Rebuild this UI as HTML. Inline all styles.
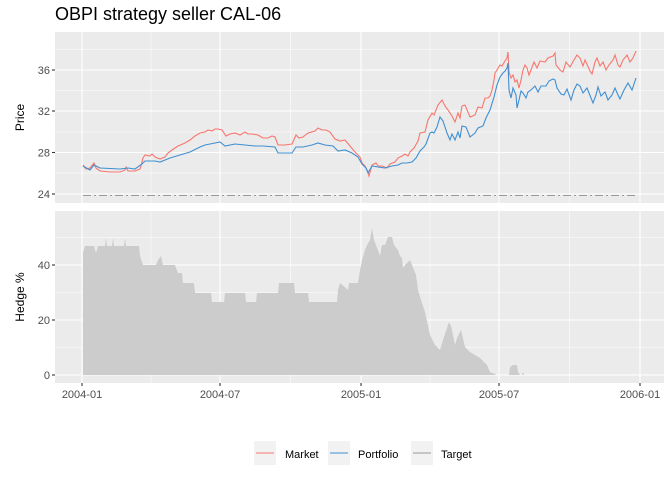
<!DOCTYPE html>
<html><head><meta charset="utf-8"><style>
html,body{margin:0;padding:0;background:#fff;}
svg{display:block;font-family:"Liberation Sans",sans-serif;}
</style></head><body>
<svg width="672" height="480" viewBox="0 0 672 480" xmlns="http://www.w3.org/2000/svg">
<rect width="672" height="480" fill="#fff"/>
<text x="55" y="20" font-size="18" fill="#000">OBPI strategy seller CAL-06</text>
<!-- top panel -->
<rect x="55" y="32" width="609" height="171" fill="#EBEBEB"/>
<g stroke="#fff" stroke-width="0.55">
<line x1="55" x2="664" y1="49.5" y2="49.5"/><line x1="55" x2="664" y1="90.5" y2="90.5"/><line x1="55" x2="664" y1="132" y2="132"/><line x1="55" x2="664" y1="173" y2="173"/>
<line y1="32" y2="203" x1="151" x2="151"/><line y1="32" y2="203" x1="290.5" x2="290.5"/><line y1="32" y2="203" x1="430" x2="430"/><line y1="32" y2="203" x1="569.5" x2="569.5"/>
</g>
<g stroke="#fff" stroke-width="1.1">
<line x1="55" x2="664" y1="70" y2="70"/><line x1="55" x2="664" y1="111" y2="111"/><line x1="55" x2="664" y1="152.5" y2="152.5"/><line x1="55" x2="664" y1="194" y2="194"/>
<line y1="32" y2="203" x1="82" x2="82"/><line y1="32" y2="203" x1="220" x2="220"/><line y1="32" y2="203" x1="361" x2="361"/><line y1="32" y2="203" x1="499" x2="499"/><line y1="32" y2="203" x1="640" x2="640"/>
</g>
<line x1="83" x2="637" y1="195.5" y2="195.5" stroke="#999" stroke-width="1.1" stroke-dasharray="8,3,2,3"/>
<polyline fill="none" stroke="#F8766D" stroke-width="1.1" points="83,165 86,169 90,168 94,163 96,168 100,171 110,172 120,172 125,170 126,167 128,171 135,171 140,169 141,166 143,158 145,155 150,156 152,154 155,157 160,159 165,157 168,153 172,150 178,146 185,143 190,140 195,136 200,133 205,132 208,130 212,131 215,129 218,129 222,130 226,136 230,134 235,133 240,135 245,132 248,134 252,134 258,135 263,138 268,138 272,136 275,137 278,145 285,145 292,144 296,135 299,138 303,137 308,133 315,131 318,128 322,130 326,130 330,132 335,139 340,141 345,140 350,146 355,152 360,157 362,163 365,166 368,172 369,176 372,165 376,163 378,166 382,166 387,168 390,164 395,162 398,158 402,156 405,154 408,156 410,152 414,148 418,141 420,133 425,132 428,120 432,113 434,115 438,105 442,100 445,106 448,110 452,116 455,122 458,113 460,118 462,106 465,105 470,117 475,115 478,107 482,108 485,98 488,98 490,96 492,90 494,80 495,73 497,70 500,65 502,66 505,61 507,58 508,52 509,72 511,78 513,75 515,82 517,80 519,88 521,80 523,70 525,65 527,68 529,75 531,70 534,62 537,68 540,61 545,62 548,58 553,56 555,53 556,65 560,70 563,72 566,62 570,67 574,60 577,55 580,58 583,66 585,60 590,71 592,74 595,62 597,58 600,66 603,62 606,70 609,65 613,60 615,55 618,65 620,67 623,60 627,55 630,62 633,58 636,51"/>
<polyline fill="none" stroke="#3F8FD2" stroke-width="1.1" points="83,166 90,170 94,165 100,168 120,169 128,168 135,169 142,164 145,161 155,161 160,162 170,158 180,155 190,152 200,147 205,145 210,144 215,143 220,142 225,146 235,144 245,145 255,146 263,146 275,147 278,153 292,153 296,147 303,147 312,145 318,143 325,145 333,146 338,151 345,150 352,153 358,157 362,164 366,168 368,173 372,166 378,167 385,168 392,166 398,165 402,163 407,163 412,162 416,158 420,151 424,147 426,144 430,133 432,132 434,133 437,127 440,117 443,121 447,133 450,140 452,134 455,140 458,132 460,138 462,126 466,127 470,137 475,133 478,128 483,126 486,118 490,110 494,97 497,85 500,77 503,73 505,71 507,68 508,63 509,90 511,98 513,88 516,95 517,108 519,100 521,91 523,93 526,98 528,92 531,90 535,86 538,92 541,86 546,86 549,81 553,79 555,80 557,88 561,94 564,95 567,89 571,100 574,90 577,84 580,86 583,93 587,88 593,103 596,95 598,87 601,96 605,92 608,100 612,95 615,88 618,95 620,99 624,90 628,83 632,90 636,78"/>
<!-- bottom panel -->
<rect x="55" y="211" width="609" height="172" fill="#EBEBEB"/>
<g stroke="#fff" stroke-width="0.55">
<line x1="55" x2="664" y1="237.5" y2="237.5"/><line x1="55" x2="664" y1="292.5" y2="292.5"/><line x1="55" x2="664" y1="347.5" y2="347.5"/>
<line y1="211" y2="383" x1="151" x2="151"/><line y1="211" y2="383" x1="290.5" x2="290.5"/><line y1="211" y2="383" x1="430" x2="430"/><line y1="211" y2="383" x1="569.5" x2="569.5"/>
</g>
<g stroke="#fff" stroke-width="1.1">
<line x1="55" x2="664" y1="265" y2="265"/><line x1="55" x2="664" y1="320" y2="320"/><line x1="55" x2="664" y1="375" y2="375"/>
<line y1="211" y2="383" x1="82" x2="82"/><line y1="211" y2="383" x1="220" x2="220"/><line y1="211" y2="383" x1="361" x2="361"/><line y1="211" y2="383" x1="499" x2="499"/><line y1="211" y2="383" x1="640" x2="640"/>
</g>
<polygon fill="#CCCCCC" points="83,375 83,253 85,246 94,246 96,253 98,246 105,246 106,238 107,246 112,246 113,238 114,246 124,246 125,238 126,246 139,246 140,256 143,265 156,265 158,260 161,256 163,265 175,265 176,268 178,273 182,273 183,283 194,283 195,293 211,293 212,302 224,302 225,293 245,293 246,302 256,302 257,293 278,293 279,283 294,283 295,293 308,293 309,302 337,302 338,290 340,283 348,290 349,283 358,283 360,270 362,260 365,250 367,245 370,240 372,228 374,240 376,245 379,253 380,256 382,245 385,245 388,237 392,237 394,245 398,250 400,256 402,258 403,268 405,265 408,262 410,260 412,265 416,275 418,290 421,300 425,312 430,335 435,345 438,348 440,350 444,337 447,328 449,322 451,326 453,335 455,345 457,338 461,330 465,347 470,352 480,358 487,365 490,372 495,374 496,375 509,375 510,367 513,365 517,365 518,372 520,375 522,375 523,372 524,375"/>
<!-- axes text -->
<g font-size="11" fill="#4D4D4D" text-anchor="end">
<text x="50" y="74">36</text><text x="50" y="115">32</text><text x="50" y="156.5">28</text><text x="50" y="198">24</text>
<text x="50" y="269">40</text><text x="50" y="324">20</text><text x="50" y="379">0</text>
</g>
<g stroke="#333" stroke-width="1.1">
<line x1="52" x2="55" y1="70" y2="70"/><line x1="52" x2="55" y1="111" y2="111"/><line x1="52" x2="55" y1="152.5" y2="152.5"/><line x1="52" x2="55" y1="194" y2="194"/>
<line x1="52" x2="55" y1="265" y2="265"/><line x1="52" x2="55" y1="320" y2="320"/><line x1="52" x2="55" y1="375" y2="375"/>
<line y1="383" y2="386" x1="82" x2="82"/><line y1="383" y2="386" x1="220" x2="220"/><line y1="383" y2="386" x1="361" x2="361"/><line y1="383" y2="386" x1="499" x2="499"/><line y1="383" y2="386" x1="640" x2="640"/>
</g>
<g font-size="11" fill="#4D4D4D" text-anchor="middle">
<text x="82" y="398">2004-01</text><text x="220" y="398">2004-07</text><text x="361" y="398">2005-01</text><text x="499" y="398">2005-07</text><text x="640" y="398">2006-01</text>
</g>
<text transform="translate(24,117.5) rotate(-90)" font-size="12" text-anchor="middle" fill="#000">Price</text>
<text transform="translate(24,297) rotate(-90)" font-size="12" text-anchor="middle" fill="#000">Hedge %</text>
<!-- legend -->
<rect x="254" y="441" width="22" height="24" fill="#F2F2F2"/>
<line x1="256" x2="274" y1="453" y2="453" stroke="#F8766D" stroke-width="1.1"/>
<text x="285" y="458" font-size="11" fill="#000">Market</text>
<rect x="328" y="441" width="22" height="24" fill="#F2F2F2"/>
<line x1="330" x2="348" y1="453" y2="453" stroke="#3F8FD2" stroke-width="1.1"/>
<text x="358" y="458" font-size="11" fill="#000">Portfolio</text>
<rect x="411" y="441" width="22" height="24" fill="#F2F2F2"/>
<line x1="413" x2="431" y1="453" y2="453" stroke="#999" stroke-width="1.1"/>
<text x="441" y="458" font-size="11" fill="#000">Target</text>
</svg>
</body></html>
